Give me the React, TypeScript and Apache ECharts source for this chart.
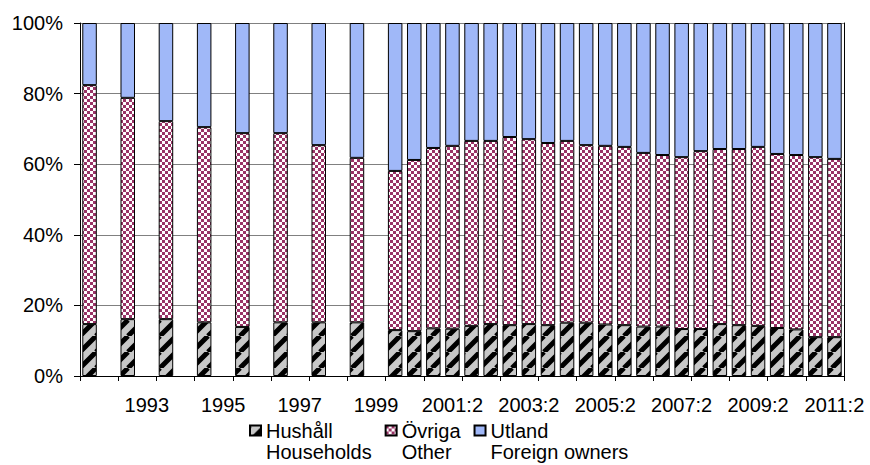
import { useEffect, useRef } from "react";
import * as echarts from "echarts";

// Annual observations (1992–1999), each year occupies two half-year slots
const annualYears = ["1992", "1993", "1994", "1995", "1996", "1997", "1998", "1999"];
const annualHushall = [14.7, 16.1, 16.1, 15.2, 13.9, 15.2, 15.2, 15.2];
const annualOvriga = [67.7, 62.7, 56.1, 55.3, 54.9, 53.6, 50.2, 46.6];
const annualUtland = [17.6, 21.2, 27.8, 29.5, 31.2, 31.2, 34.6, 38.2];

// Half-year observations 2000:1 – 2011:2
const halfYears = [
  "2000:1", "2000:2", "2001:1", "2001:2", "2002:1", "2002:2", "2003:1", "2003:2",
  "2004:1", "2004:2", "2005:1", "2005:2", "2006:1", "2006:2", "2007:1", "2007:2",
  "2008:1", "2008:2", "2009:1", "2009:2", "2010:1", "2010:2", "2011:1", "2011:2",
];
const halfHushall = [
  13.0, 12.7, 13.5, 13.4, 14.2, 14.7, 14.4, 14.7, 14.4, 15.1, 15.1, 14.6,
  14.4, 14.0, 14.0, 13.3, 13.3, 14.7, 14.4, 14.2, 13.6, 13.2, 11.0, 11.0,
];
const halfOvriga = [
  45.1, 48.5, 51.1, 51.8, 52.4, 51.9, 53.3, 52.4, 51.6, 51.5, 50.3, 50.6,
  50.5, 49.2, 48.6, 48.7, 50.4, 49.6, 49.9, 50.7, 49.3, 49.4, 51.0, 50.5,
];
const halfUtland = [
  41.9, 38.8, 35.4, 34.8, 33.4, 33.4, 32.3, 32.9, 34.0, 33.4, 34.6, 34.8,
  35.1, 36.8, 37.4, 38.0, 36.3, 35.7, 35.7, 35.1, 37.1, 37.4, 38.0, 38.5,
];

const yTickLabels = ["0%", "20%", "40%", "60%", "80%", "100%"];

const seriesNames = ["Hushåll", "Övriga", "Utland"];
const legendLabels: Record<string, string> = {
  "Hushåll": "Hushåll\nHouseholds",
  "Övriga": "Övriga\nOther",
  "Utland": "Utland\nForeign owners",
};

const FONT = '"Liberation Sans", Arial, sans-serif';

function buildSlots(annual: number[], half: number[]) {
  const out: (number | null)[] = [];
  annual.forEach((v) => {
    out.push(v);
    out.push(null);
  });
  half.forEach((v) => out.push(v));
  return out;
}

const categories: string[] = [];
annualYears.forEach((y) => {
  categories.push(y + ":1");
  categories.push(y + ":2");
});
halfYears.forEach((h) => categories.push(h));

function stripePattern() {
  const c = document.createElement("canvas");
  c.width = 16;
  c.height = 16;
  const ctx = c.getContext("2d")!;
  ctx.fillStyle = "#C8C8C8";
  ctx.fillRect(0, 0, 16, 16);
  ctx.strokeStyle = "#000";
  ctx.lineWidth = 5;
  ctx.beginPath();
  for (const o of [-16, 0, 16]) {
    ctx.moveTo(o, 16);
    ctx.lineTo(o + 16, 0);
  }
  ctx.stroke();
  return { image: c.toDataURL(), repeat: "repeat", imageWidth: 16, imageHeight: 16 };
}

function checkerPattern() {
  const c = document.createElement("canvas");
  c.width = 6;
  c.height = 6;
  const ctx = c.getContext("2d")!;
  ctx.fillStyle = "#FFFFFF";
  ctx.fillRect(0, 0, 6, 6);
  ctx.fillStyle = "#993366";
  ctx.fillRect(0, 0, 3, 3);
  ctx.fillRect(3, 3, 3, 3);
  return { image: c.toDataURL(), repeat: "repeat", imageWidth: 6, imageHeight: 6 };
}

export default function App() {
  const ref = useRef<HTMLDivElement>(null);

  useEffect(() => {
    if (!ref.current) return;
    const chart = echarts.init(ref.current, undefined, { renderer: "svg" });

    const colors = [stripePattern(), checkerPattern(), "#A0B8F8"];
    const data = [
      buildSlots(annualHushall, halfHushall),
      buildSlots(annualOvriga, halfOvriga),
      buildSlots(annualUtland, halfUtland),
    ];

    const option: any = {
      animation: false,
      textStyle: { fontFamily: FONT },
      grid: { left: 80, right: 26, top: 23, bottom: 89, containLabel: false },
      legend: {
        data: seriesNames,
        left: 249,
        top: 399,
        padding: 0,
        itemWidth: 11,
        itemHeight: 10,
        itemGap: 13,
        icon: "rect",
        formatter: (name: string) => " \n" + legendLabels[name],
        textStyle: { fontSize: 20, lineHeight: 21, color: "#000", fontFamily: FONT },
      },
      xAxis: {
        type: "category",
        data: categories,
        boundaryGap: true,
        axisLine: { show: true, lineStyle: { color: "#000", width: 1 } },
        axisTick: {
          show: true,
          length: 5,
          interval: (i: number) => i % 2 === 0,
          lineStyle: { color: "#000" },
        },
        axisLabel: {
          interval: (i: number) => i % 4 === 3,
          formatter: (v: string) => (v.startsWith("19") ? v.slice(0, 4) : v),
          fontSize: 20,
          color: "#000",
          fontFamily: FONT,
          margin: 19,
        },
        splitLine: { show: false },
      },
      yAxis: [
        {
          type: "value",
          min: 0,
          max: 100,
          interval: 20,
          axisLabel: {
            formatter: (v: number) => yTickLabels[Math.round(v / 20)],
            fontSize: 20,
            color: "#000",
            fontFamily: FONT,
            margin: 17,
          },
          axisLine: { show: true, lineStyle: { color: "#000" } },
          axisTick: { show: true, length: 6, lineStyle: { color: "#000" } },
          splitLine: { show: true, lineStyle: { color: "#808080", width: 1 } },
        },
        {
          type: "value",
          position: "right",
          min: 0,
          max: 100,
          interval: 20,
          axisLine: { show: true, lineStyle: { color: "#000" } },
          axisLabel: { show: false },
          axisTick: { show: false },
          splitLine: { show: false },
        },
      ],
      series: seriesNames.map((name, i) => ({
        name,
        type: "bar",
        stack: "total",
        barWidth: "76%",
        data: data[i],
        itemStyle: { color: colors[i], borderColor: "#000", borderWidth: 1 },
        emphasis: { disabled: true },
      })),
    };

    chart.setOption(option);
    return () => chart.dispose();
  }, []);

  return (
    <div
      ref={ref}
      style={{ position: "fixed", left: 0, top: 0, width: 870, height: 465, background: "#fff" }}
    />
  );
}
